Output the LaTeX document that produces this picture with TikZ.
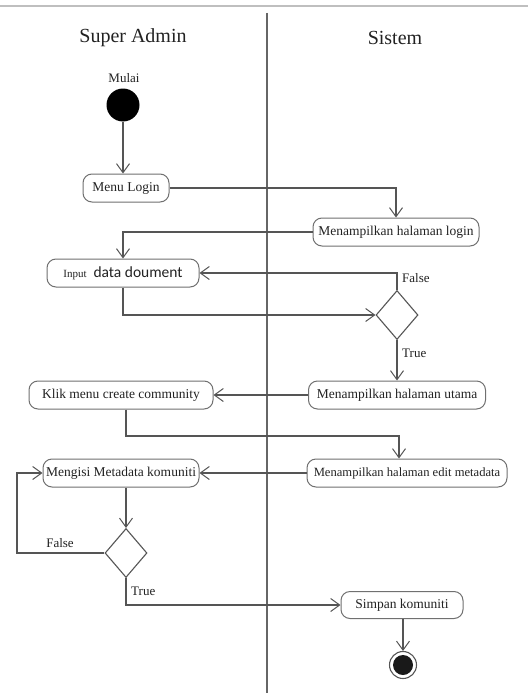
\documentclass[tikz,border=0pt]{standalone}
\usepackage{fontspec}
\setmainfont{Liberation Serif}
\newfontfamily\calibfont{Carlito}
\usetikzlibrary{arrows.meta,shapes.geometric}
\definecolor{edge}{HTML}{555555}
\definecolor{boxline}{HTML}{707070}
\definecolor{ink}{HTML}{222222}
\begin{document}
\begin{tikzpicture}[x=1pt,y=-1pt,
  act/.style={draw=boxline, line width=1pt, rounded corners=9pt, minimum height=28pt,
              inner sep=0pt, text=ink, font=\fontsize{13.5}{16}\selectfont},
  flow/.style={draw=edge, line width=1.1pt,
               -{Straight Barb[length=9pt,width=13pt,line width=1pt]}},
  decision/.style={diamond, draw=edge, line width=1.1pt, minimum width=42pt,
                   minimum height=49pt, inner sep=0pt},
  lbl/.style={text=ink, font=\fontsize{13}{15}\selectfont, inner sep=0pt},
  lane/.style={text=ink, font=\fontsize{20}{23}\selectfont, inner sep=0pt}
]
\useasboundingbox (0,0) rectangle (528,693);
\fill[white] (0,0) rectangle (528,693);

% frame rule at the top and swimlane divider
\draw[line width=2pt, draw=black!25] (0,6) -- (528,6);
\draw[line width=1.4pt, draw=black!60] (267,13) -- (267,693);

% lane titles
\node[lane] (laneA) at (133,38) {Super Admin};
\node[lane] (laneB) at (395,38) {Sistem};

% start
\node[lbl] (mulai) at (124,78) {Mulai};
\node[circle, fill=black, minimum size=33pt, inner sep=0pt] (start) at (123,105) {};

% activities
\node[act, minimum width=86pt]  (login)  at (126,188) {Menu Login};
\node[act, minimum width=166pt] (mlogin) at (396,232) {Menampilkan halaman login};
\node[act, minimum width=152pt] (input)  at (123,273)
  {{\fontsize{11}{13}\selectfont Input}\hspace{7pt}{\calibfont\fontsize{15.5}{18}\selectfont data doument}};
\node[decision] (d1) at (397,315) {};
\node[act, minimum width=177pt] (mutama) at (397,395) {Menampilkan halaman utama};
\node[act, minimum width=184pt] (klik)   at (121,395) {Klik menu create community};
\node[act, minimum width=200pt, font=\fontsize{12.6}{15}\selectfont] (medit) at (407,473)
  {Menampilkan halaman edit metadata};
\node[act, minimum width=156pt] (meng)   at (121,473) {Mengisi Metadata komuniti};
\node[decision] (d2) at (126,553) {};
\node[act, minimum width=122pt, minimum height=27pt] (simpan) at (402,605) {Simpan komuniti};

% end
\node[circle, draw=edge, line width=1.1pt, minimum size=27pt, inner sep=0pt] (endo) at (403,665) {};
\node[circle, fill=black!90, minimum size=20pt, inner sep=0pt] (endi) at (endo.center) {};

% guard labels
\node[lbl, anchor=west] (f1) at (402,278) {False};
\node[lbl, anchor=west] (t1) at (402,353) {True};
\node[lbl] (f2) at (60,543) {False};
\node[lbl, anchor=west] (t2) at (131,591) {True};

% bend points
\coordinate (k1) at (126,436);
\coordinate (k2) at (399,436);
\coordinate (fb) at (17,553);

% flows
\draw[flow] (start.south) -- (start.south |- login.north);
\draw[flow] (login.east) -| (mlogin.north);
\draw[flow] (mlogin.west) -| (input.north);
\draw[flow] (input.south) |- (d1.west);
\draw[flow] (d1.north) |- (input.east);
\draw[flow] (d1.south) -- (mutama.north);
\draw[flow] (mutama.west) -- (klik.east);
\draw[flow] (klik.south -| k1) -- (k1) -- (k2) -- (k2 |- medit.north);
\draw[flow] (medit.west) -- (meng.east);
\draw[flow] (d2.north |- meng.south) -- (d2.north);
\draw[flow] (d2.west) -- (fb) |- (meng.west);
\draw[flow] (d2.south) |- (simpan.west);
\draw[flow] (simpan.south -| endo) -- (endo.north);
\end{tikzpicture}
\end{document}
